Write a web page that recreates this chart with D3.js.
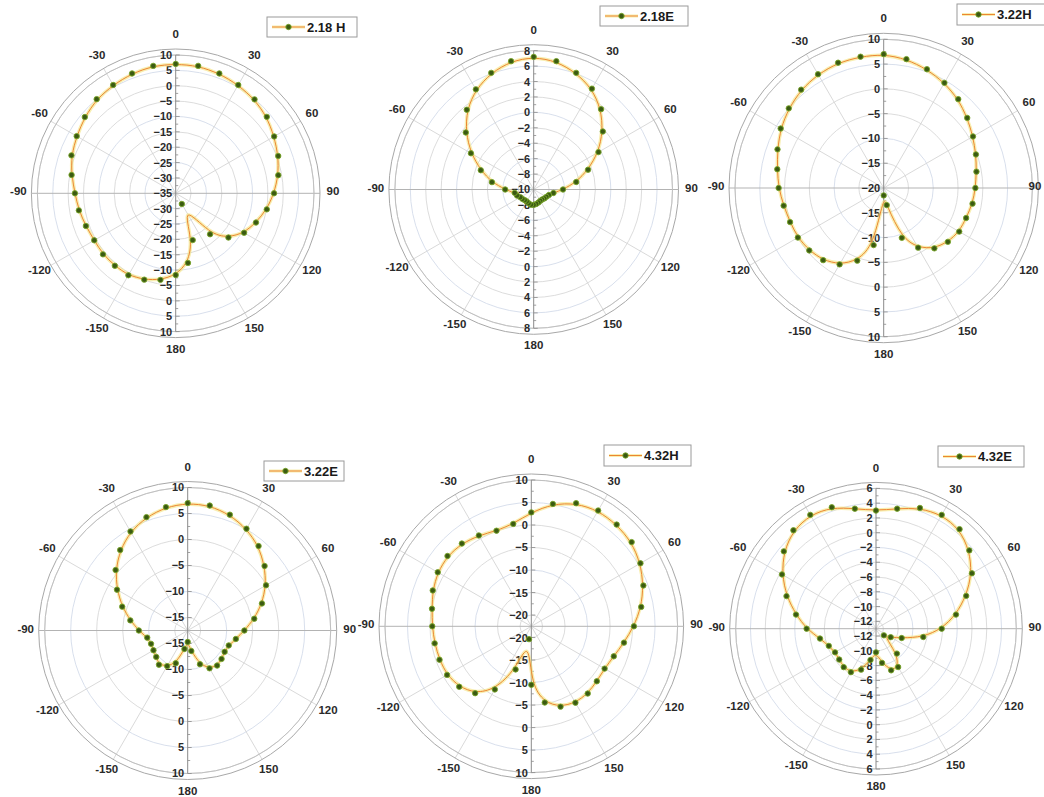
<!DOCTYPE html>
<html>
<head>
<meta charset="utf-8">
<script src="https://cdn.jsdelivr.net/npm/d3@7"></script>
<style>
  body { margin: 0; background: #fff; }
  svg { display: block; }
  text { font-family: "Liberation Sans", Arial, sans-serif; font-weight: bold; }
</style>
</head>
<body>
<svg id="chart" width="1044" height="797"></svg>
<script>
// Radiation patterns, sampled every 10 degrees (0 = boresight, clockwise)
const angles = d3.range(0, 360, 10);
const angleTicks = [0, 30, 60, 90, 120, 150, 180, -150, -120, -90, -60, -30];

// Gain in dB at each angle
const h218 = [7.1, 7.1, 6.5, 5.7, 4.9, 3.7, 2.0, 0.5, -1.1, -3.0, -4.9, -7.2, -9.3, -12.6, -17.6, -31.0, -18.8, -12.0,
              -8.4, -6.4, -5.1, -4.2, -4.2, -4.1, -4.4, -3.9, -3.0, -2.2, -0.6, 1.1, 2.2, 3.6, 5.0, 5.7, 6.5, 7.1];
const e218 = [7.2, 6.9, 6.1, 5.1, 3.6, 1.7, -0.3, -2.5, -4.4, -6.2, -7.4, -7.9, -8.1, -8.2, -8.3, -8.3, -8.2, -8.1,
              -8.0, -8.0, -8.1, -8.2, -8.2, -8.1, -8.0, -7.7, -7.5, -6.3, -4.5, -2.7, -0.6, 1.5, 3.5, 5.0, 6.1, 6.9];
const h322 = [7.0, 6.4, 5.5, 4.5, 3.4, 2.0, 0.8, -0.2, -1.0, -1.5, -1.8, -2.3, -2.4, -3.1, -4.1, -6.1, -9.3, -16.5,
              -18.5, -8.3, -4.4, -2.2, -1.0, -0.4, 0.0, 0.1, 0.5, 1.2, 1.8, 2.8, 4.0, 5.0, 5.9, 6.5, 6.9, 6.9];
const e322 = [7.0, 6.9, 6.2, 5.1, 3.7, 1.8, -0.1, -2.3, -4.5, -6.6, -8.1, -9.1, -9.3, -9.0, -8.7, -9.1, -10.6, -13.5,
              -15.3, -13.9, -10.8, -9.6, -8.9, -9.6, -9.9, -10.0, -9.6, -8.1, -6.3, -4.1, -1.8, 0.6, 2.7, 4.5, 5.7, 6.6];
const h432 = [2.8, 5.1, 6.6, 7.2, 7.0, 6.6, 5.5, 4.0, 2.3, 0.3, -1.6, -3.0, -3.7, -3.5, -3.0, -2.9, -3.5, -5.3,
              -9.5, -19.6, -12.3, -6.3, -3.1, -1.6, -0.9, -0.8, -0.7, -0.5, -0.1, 0.8, 1.5, 1.8, 1.5, 0.8, 0.1, 0.6];
const e432 = [3.0, 3.5, 4.4, 4.8, 4.6, 3.5, 2.0, 0.0, -2.0, -4.1, -6.5, -9.3, -10.7, -11.6, -8.6, -7.0, -7.0, -8.3,
              -9.8, -8.7, -7.1, -6.2, -6.2, -6.5, -6.6, -6.2, -5.3, -3.6, -2.0, -0.1, 1.7, 3.3, 4.4, 4.8, 4.5, 3.5];

const seriesNames = ["2.18 H", "2.18E", "3.22H", "3.22E", "4.32H", "4.32E"];
const seriesValues = [h218, e218, h322, e322, h432, e432];

// Radial axis ranges (dB) and tick step for each pattern
const radialMin  = [-35, -10, -20, -17.5, -22.5, -13];
const radialMax  = [10, 8, 10, 10, 10, 6];
const radialStep = [5, 2, 5, 5, 5, 2];

// Panel placement: polar centre, radius of the outermost tick ring, legend box
const panels = [
  { cx: 175.7, cy: 193.3, R: 138.3, legend: [267, 17, 90, 20] },
  { cx: 533.7, cy: 189.5, R: 138.8, legend: [600, 6, 88, 20] },
  { cx: 883.7, cy: 188.0, R: 148.7, legend: [957, 4, 92, 21] },
  { cx: 187.7, cy: 630.5, R: 143.0, legend: [264, 461, 80, 20] },
  { cx: 531.3, cy: 626.3, R: 146.3, legend: [604, 445, 87, 21] },
  { cx: 876.0, cy: 628.7, R: 140.3, legend: [938, 446, 86, 21] }
];

const W = 1044;
const LINE_ORANGE = "#ec8632";
const LINE_GLOW = "#f4e27c";
const DOT_FILL = "#3b5a12";
const DOT_EDGE = "#78a528";

const svg = d3.select("#chart");
const toRad = d3.scaleLinear().domain([0, 360]).range([0, 2 * Math.PI]);

panels.forEach((p, i) => {
  const vals = seriesValues[i];
  const rMin = radialMin[i], rMax = radialMax[i], step = radialStep[i];
  const r = d3.scaleLinear().domain([rMin, rMax]).range([0, p.R]).clamp(true);
  const frameR = p.R + 6;
  const g = svg.append("g").attr("transform", `translate(${p.cx},${p.cy})`);

  const ticks = d3.range(rMax, rMin - 1e-6, -step).map(v => +v.toFixed(4));

  // concentric rings
  g.selectAll("circle.ring")
    .data(ticks.filter(t => t > rMin))
    .join("circle")
    .attr("class", "ring")
    .attr("r", d => r(d))
    .attr("fill", "none")
    .attr("stroke", (d, k) => k % 3 === 1 ? "#d4dbea" : "#d8d8d8")
    .attr("stroke-width", 0.9);

  // spokes every 30 degrees
  g.selectAll("line.spoke")
    .data(d3.range(0, 360, 30).filter(a => a % 90 !== 0))
    .join("line")
    .attr("class", "spoke")
    .attr("x1", 0).attr("y1", 0)
    .attr("x2", a => frameR * Math.sin(toRad(a)))
    .attr("y2", a => -frameR * Math.cos(toRad(a)))
    .attr("stroke", "#d5d5d5")
    .attr("stroke-width", 0.9);

  // horizontal (±90) axis line
  g.append("line")
    .attr("x1", -frameR).attr("x2", frameR).attr("y1", 0).attr("y2", 0)
    .attr("stroke", "#b3b3b3").attr("stroke-width", 1);

  // outer frame (double ring)
  g.append("circle").attr("r", p.R).attr("fill", "none")
    .attr("stroke", "#c0c0c0").attr("stroke-width", 1);
  g.append("circle").attr("r", frameR).attr("fill", "none")
    .attr("stroke", "#a8a8a8").attr("stroke-width", 1);

  // radial axis along 0/180
  g.append("line")
    .attr("x1", 0).attr("x2", 0).attr("y1", -p.R).attr("y2", p.R)
    .attr("stroke", "#8a8a8a").attr("stroke-width", 1);

  // axis ticks (major + minor) on both halves
  const minor = d3.range(rMax, rMin - 1e-6, -step / 2).filter(v => v > rMin);
  [-1, 1].forEach(sgn => {
    g.selectAll(null)
      .data(minor)
      .join("line")
      .attr("x1", 0)
      .attr("x2", (d, k) => k % 2 === 0 ? 4 : 2.5)
      .attr("y1", d => sgn * r(d)).attr("y2", d => sgn * r(d))
      .attr("stroke", "#8a8a8a").attr("stroke-width", 0.8);
  });

  // radial tick labels, upper half (down to centre) then lower half
  const topLabels = ticks.map(t => ({ v: t, y: -r(t) }));
  const botLabels = ticks.filter(t => t > rMin).map(t => ({ v: t, y: r(t) }));
  g.selectAll("text.rlab")
    .data(topLabels.concat(botLabels))
    .join("text")
    .attr("class", "rlab")
    .attr("x", -3.5)
    .attr("y", d => d.y)
    .attr("dy", "0.36em")
    .attr("text-anchor", "end")
    .attr("font-size", 11)
    .attr("fill", "#2a2a2a")
    .text(d => d3.format("d")(d.v));

  // angular labels (kept inside the page edge)
  const labR = frameR + 13;
  g.selectAll("text.alab")
    .data(angleTicks)
    .join("text")
    .attr("class", "alab")
    .attr("x", a => Math.min(labR * Math.sin(toRad(a)), W - 9 - p.cx))
    .attr("y", a => -labR * Math.cos(toRad(a)) - 2)
    .attr("dy", "0.36em")
    .attr("text-anchor", "middle")
    .attr("font-size", 11.5)
    .attr("fill", "#2a2a2a")
    .text(a => a);

  // pattern trace (B-spline through the samples) with a soft glow
  const pts = angles.map((a, k) => ({ a, v: vals[k] }));
  const radial = d3.lineRadial()
    .angle(d => toRad(d.a))
    .radius(d => r(d.v))
    .curve(d3.curveBasisClosed);
  g.append("path").attr("d", radial(pts)).attr("fill", "none")
    .attr("stroke", LINE_GLOW).attr("stroke-width", 3.6).attr("stroke-opacity", 0.6)
    .attr("stroke-linejoin", "round");
  g.append("path").attr("d", radial(pts)).attr("fill", "none")
    .attr("stroke", LINE_ORANGE).attr("stroke-width", 1)
    .attr("stroke-linejoin", "round");

  // sample markers
  g.selectAll("circle.pt")
    .data(pts)
    .join("circle")
    .attr("class", "pt")
    .attr("cx", d => r(d.v) * Math.sin(toRad(d.a)))
    .attr("cy", d => -r(d.v) * Math.cos(toRad(d.a)))
    .attr("r", 2.7)
    .attr("fill", DOT_FILL)
    .attr("stroke", DOT_EDGE)
    .attr("stroke-width", 0.9);

  // legend
  const [lx, ly, lw, lh] = p.legend;
  const lg = svg.append("g").attr("transform", `translate(${lx},${ly})`);
  lg.append("rect").attr("width", lw).attr("height", lh)
    .attr("fill", "#fff").attr("stroke", "#9a9a9a").attr("stroke-width", 1);
  const my = lh / 2;
  lg.append("line").attr("x1", 5).attr("x2", 38).attr("y1", my).attr("y2", my)
    .attr("stroke", LINE_GLOW).attr("stroke-width", 3.2).attr("stroke-opacity", 0.6);
  lg.append("line").attr("x1", 5).attr("x2", 38).attr("y1", my).attr("y2", my)
    .attr("stroke", LINE_ORANGE).attr("stroke-width", 1);
  lg.append("circle").attr("cx", 21.5).attr("cy", my).attr("r", 2.7)
    .attr("fill", DOT_FILL).attr("stroke", DOT_EDGE).attr("stroke-width", 0.9);
  lg.append("text").attr("x", 40).attr("y", my).attr("dy", "0.36em")
    .attr("font-size", 13).attr("fill", "#1a1a1a")
    .text(seriesNames[i]);
});
</script>
</body>
</html>
